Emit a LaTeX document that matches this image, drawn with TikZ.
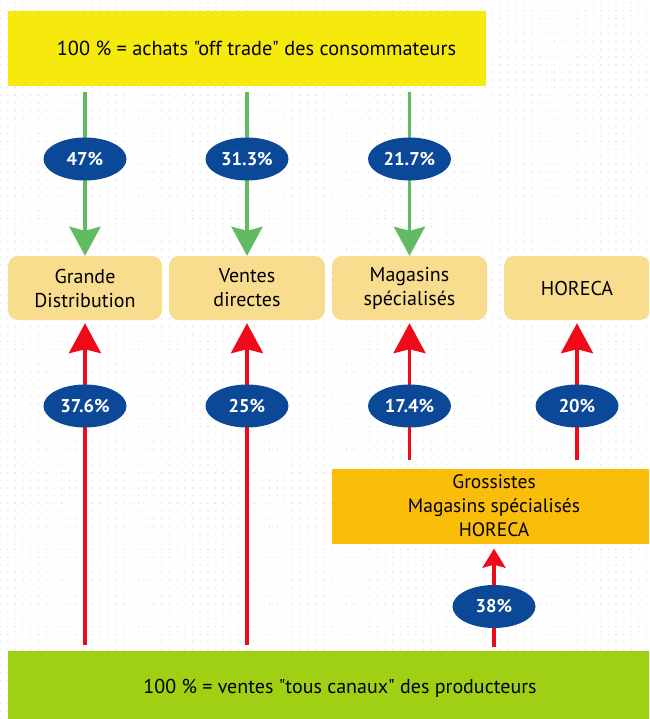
\documentclass[tikz,border=0pt]{standalone}
\usepackage{fontspec}
\setmainfont{PT Sans}[Ligatures=TeXOff]
\usetikzlibrary{arrows.meta,shapes.geometric,patterns}
\definecolor{topyellow}{RGB}{246,234,12}
\definecolor{boxtan}{RGB}{248,221,142}
\definecolor{groorange}{RGB}{250,190,10}
\definecolor{botgreen}{RGB}{160,208,20}
\definecolor{arrgreen}{RGB}{98,186,98}
\definecolor{arrred}{RGB}{240,10,25}
\definecolor{pctblue}{RGB}{12,72,152}
\pgfdeclarepatternformonly{sparsedots}{\pgfqpoint{-1pt}{-1pt}}{\pgfqpoint{1pt}{1pt}}{\pgfqpoint{7.7pt}{7.7pt}}{\pgfpathcircle{\pgfqpoint{0pt}{0pt}}{0.55pt}\pgfusepath{fill}}
\begin{document}
\begin{tikzpicture}[x=1pt,y=-1pt,
  topbox/.style={rectangle, fill=topyellow, minimum width=478pt, minimum height=75pt, inner sep=0pt},
  bigtext/.style={font=\fontsize{20.3}{24}\selectfont, inner sep=0pt},
  chanbox/.style={rectangle, rounded corners=10pt, fill=boxtan, minimum height=64pt, inner sep=0pt, align=center, font=\fontsize{20}{24}\selectfont},
  grobox/.style={rectangle, fill=groorange, minimum height=75pt, inner sep=0pt, align=center, font=\fontsize{19.5}{24}\selectfont},
  botbox/.style={rectangle, fill=botgreen, minimum height=75pt, inner sep=0pt, font=\fontsize{20}{24}\selectfont},
  pct/.style={ellipse, fill=pctblue, minimum width=83pt, minimum height=43pt, inner sep=0pt, text=white, font=\bfseries\fontsize{18.5}{20}\selectfont},
  garr/.style={draw=arrgreen, line width=3.5pt, -{Stealth[width=31pt,length=29pt,inset=4pt]}},
  rarr/.style={draw=arrred, line width=3.5pt, -{Stealth[width=32pt,length=30pt,inset=4pt]}},
  rarrsmall/.style={draw=arrred, line width=3.5pt, -{Stealth[width=23pt,length=19pt,inset=3pt]}}
]
\useasboundingbox (0,0) rectangle (649,719);
\clip (0,0) rectangle (649,719);
\fill[white] (0,0) rectangle (649,719);
\fill[pattern=sparsedots, pattern color=black!20] (0,0) rectangle (649,719);

% boxes
\node[topbox] (top) at (247,48.5) {};
\node[bigtext] (toplbl) at (256.5,48.5) {100 \% = achats "off trade" des consommateurs};
\node[chanbox, minimum width=154pt] (gd) at (85,288) {Grande\\Distribution};
\node[chanbox, minimum width=156pt] (vd) at (247,288) {Ventes\\directes};
\node[chanbox, minimum width=155pt] (ms) at (409.5,288) {Magasins\\spécialisés};
\node[chanbox, minimum width=146pt] (ho) at (577,288) {HORECA};
\node[grobox, minimum width=324pt] (gro) at (494,506) {Grossistes\\Magasins spécialisés\\HORECA};
\node[botbox, minimum width=664pt] (bot) at (340,688) {100 \% = ventes "tous canaux" des producteurs};

% green arrows
\draw[garr, shorten <=6pt] (top.south -| gd.north) -- (gd.north);
\draw[garr, shorten <=6pt] (top.south -| vd.north) -- (vd.north);
\draw[garr, shorten <=6pt] (top.south -| ms.north) -- (ms.north);

% red arrows
\draw[rarr, shorten <=5pt, shorten >=3pt] (bot.north -| gd.south) -- (gd.south);
\draw[rarr, shorten <=5pt, shorten >=3pt] (bot.north -| vd.south) -- (vd.south);
\draw[rarr, shorten <=8pt, shorten >=3pt] (gro.north -| ms.south) -- (ms.south);
\draw[rarr, shorten <=8pt, shorten >=3pt] (gro.north -| ho.south) -- (ho.south);
\draw[rarrsmall, shorten <=3pt, shorten >=5pt] (bot.north -| gro.south) -- (gro.south);

% percentages
\node[pct] (p1) at (85,159) {47\%};
\node[pct] (p2) at (247,159) {31.3\%};
\node[pct] (p3) at (409.5,159) {21.7\%};
\node[pct] (p4) at (85,406) {37.6\%};
\node[pct] (p5) at (247,406) {25\%};
\node[pct] (p6) at (409.5,406) {17.4\%};
\node[pct] (p7) at (577,406) {20\%};
\node[pct] (p8) at (494,606.5) {38\%};
\end{tikzpicture}
\end{document}
